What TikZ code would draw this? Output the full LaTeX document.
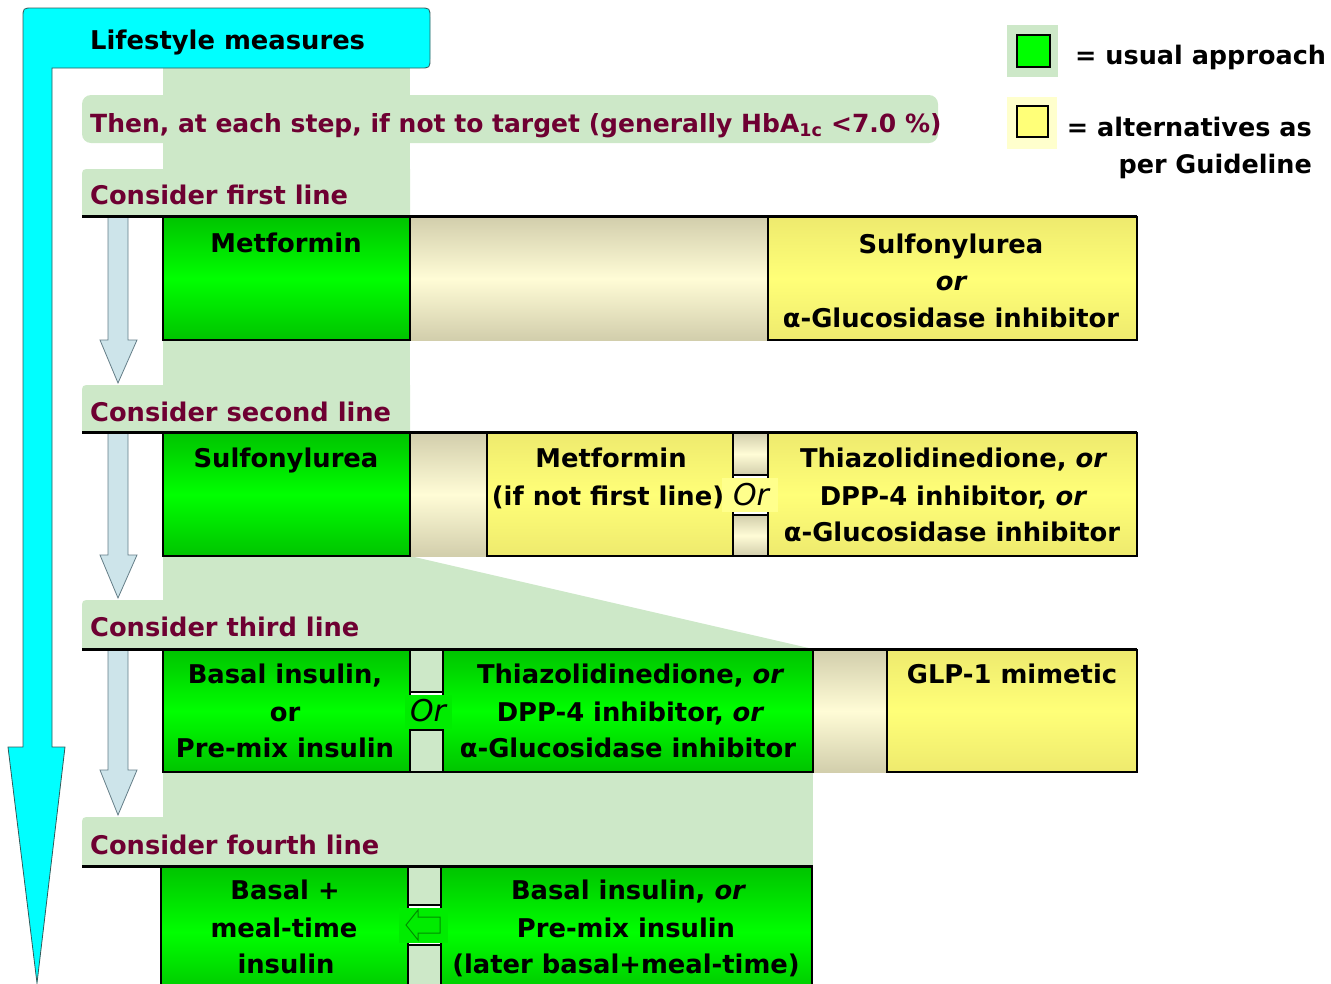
\documentclass[tikz,border=0pt]{standalone}
\usepackage{fontspec}
\setmainfont{DejaVu Sans}
\definecolor{cyanA}{RGB}{0,255,255}
\definecolor{cyanB}{RGB}{50,90,90}
\definecolor{bgG}{RGB}{205,232,200}
\definecolor{gEdge}{RGB}{0,196,0}
\definecolor{gMid}{RGB}{0,255,0}
\definecolor{yEdge}{RGB}{238,234,110}
\definecolor{yMid}{RGB}{255,255,120}
\definecolor{kEdge}{RGB}{210,206,172}
\definecolor{kMid}{RGB}{255,252,214}
\definecolor{arrB}{RGB}{205,228,234}
\definecolor{arrBd}{RGB}{100,125,135}
\definecolor{maroonT}{RGB}{110,0,50}
\definecolor{lyel}{RGB}{255,255,205}
\definecolor{orY}{RGB}{255,255,140}
\definecolor{orG}{RGB}{0,236,0}
\definecolor{dkG}{RGB}{0,140,0}
\tikzset{
 box/.style={draw=black, line width=1.5pt, anchor=north west, inner sep=0pt, outer sep=0pt},
 gbox/.style={box, top color=gEdge, bottom color=gEdge, middle color=gMid},
 ybox/.style={box, top color=yEdge, bottom color=yEdge, middle color=yMid},
 kbox/.style={box, top color=kEdge, bottom color=kEdge, middle color=kMid},
 conn/.style={anchor=north west, inner sep=0pt, outer sep=0pt, top color=kEdge, bottom color=kEdge, middle color=kMid},
 lbox/.style={box, fill=bgG},
 txt/.style={font=\fontsize{25.8}{28}\selectfont\bfseries, anchor=base, inner sep=0pt},
 lab/.style={font=\fontsize{25.7}{28}\selectfont\bfseries, text=maroonT, anchor=base west, inner sep=0pt},
 legt/.style={font=\fontsize{25.5}{28}\selectfont\bfseries, inner sep=0pt},
 ortxt/.style={font=\fontsize{30}{32}\selectfont\itshape, anchor=base, inner sep=0pt},
 barrow/.style={fill=arrB, draw=arrBd, line width=0.8pt},
 rowline/.style={line width=3pt, black},
 tab/.style={fill=bgG, rounded corners=9pt},
}
\newcommand{\toptab}[4]{\fill[bgG] (#1,#4) -- (#1,#2+9) .. controls (#1,#2) .. (#1+9,#2) -- (#3,#2) -- (#3,#4) -- cycle;}
\begin{document}
\begin{tikzpicture}[x=1pt,y=-1pt]
\useasboundingbox (0,0) rectangle (1331,983);
\clip (0,0) rectangle (1331,983);
% light green background
\fill[bgG] (163,68) rectangle (410,560);
\fill[tab] (82,95) rectangle (938,143);
\toptab{82}{169}{410}{216}
\toptab{82}{385}{410}{432}
\fill[bgG] (163,556) -- (410,556) -- (813,649) -- (163,649) -- cycle;
\toptab{82}{600}{420}{649}
\fill[bgG] (163,770) rectangle (813,866);
\toptab{82}{817}{420}{866}
% cyan arrow
\draw[fill=cyanA, draw=cyanB, line width=0.8pt]
  (23,747) -- (23,18) .. controls (23,8) .. (33,8) -- (420,8) .. controls (430,8) .. (430,18)
  -- (430,58) .. controls (430,68) .. (420,68) -- (52,68) -- (52,747) -- (65,747) -- (37,983)
  -- (8,747) -- cycle;
\node[txt, anchor=base west, font=\fontsize{25.8}{28}\selectfont\bfseries] (life) at (90,49) {Lifestyle measures};
% step arrows
\draw[barrow] (108,217) -- (128,217) -- (128,340) -- (137,340) -- (118,383) -- (100,340) -- (108,340) -- cycle;
\draw[barrow] (108,433) -- (128,433) -- (128,555) -- (137,555) -- (118,598) -- (100,555) -- (108,555) -- cycle;
\draw[barrow] (108,650) -- (128,650) -- (128,770) -- (137,770) -- (118,815) -- (100,770) -- (108,770) -- cycle;
% labels
\node[lab, font=\fontsize{25}{28}\selectfont\bfseries] (then) at (90,132) {Then, at each step, if not to target (generally HbA\textsubscript{1c} <7.0 \%)};
\node[lab] (l1) at (90,204) {Consider first line};
\node[lab] (l2) at (90,421) {Consider second line};
\node[lab] (l3) at (90,636) {Consider third line};
\node[lab] (l4) at (90,854) {Consider fourth line};
% row 1
\node[conn, minimum width=358pt, minimum height=123pt] (c1) at (410,217) {};
\node[gbox, minimum width=247pt, minimum height=123pt] (r1a) at (163,217) {};
\node[ybox, minimum width=369pt, minimum height=123pt] (r1b) at (768,217) {};
\draw[rowline] (82,216) -- (1137,216);
\node[txt] (t1a) at (286,252) {Metformin};
\node[txt] (t1b) at (951,253) {Sulfonylurea};
\node[txt] (t1c) at (951,290) {\itshape or};
\node[txt] (t1d) at (951,327) {α-Glucosidase inhibitor};
% row 2
\node[conn, minimum width=77pt, minimum height=123pt] (c2) at (410,433) {};
\node[gbox, minimum width=247pt, minimum height=123pt] (r2a) at (163,433) {};
\node[ybox, minimum width=246pt, minimum height=123pt] (r2b) at (487,433) {};
\node[kbox, minimum width=35pt, minimum height=42pt] (r2s1) at (733,433) {};
\node[kbox, minimum width=35pt, minimum height=41pt] (r2s2) at (733,515) {};
\node[ybox, minimum width=369pt, minimum height=123pt] (r2c) at (768,433) {};
\fill[orY] (722,478) rectangle (778,512);
\draw[rowline] (82,432) -- (1137,432);
\node[txt] (t2a) at (286,467) {Sulfonylurea};
\node[txt] (t2b) at (611,467) {Metformin};
\node[txt] (t2c) at (608,505) {(if not first line)};
\node[ortxt] (or2) at (751,505) {Or};
\node[txt] (t2d) at (953,467) {Thiazolidinedione, \itshape or};
\node[txt] (t2e) at (953,505) {DPP-4 inhibitor, \itshape or};
\node[txt] (t2f) at (952,541) {α-Glucosidase inhibitor};
% row 3
\node[conn, minimum width=74pt, minimum height=122pt] (c3) at (813,650) {};
\node[gbox, minimum width=247pt, minimum height=122pt] (r3a) at (163,650) {};
\node[lbox, minimum width=33pt, minimum height=42pt] (r3s1) at (410,650) {};
\node[lbox, minimum width=33pt, minimum height=42pt] (r3s2) at (410,730) {};
\node[gbox, minimum width=370pt, minimum height=122pt] (r3b) at (443,650) {};
\node[ybox, minimum width=250pt, minimum height=122pt] (r3c) at (887,650) {};
\fill[orG] (405,695) rectangle (452,729);
\draw[rowline] (82,649) -- (1137,649);
\node[txt] (t3a) at (285,683) {Basal insulin,};
\node[txt] (t3b) at (285,721) {or};
\node[txt] (t3c) at (285,757) {Pre-mix insulin};
\node[ortxt] (or3) at (428,721) {Or};
\node[txt] (t3d) at (630,683) {Thiazolidinedione, \itshape or};
\node[txt] (t3e) at (630,721) {DPP-4 inhibitor, \itshape or};
\node[txt] (t3f) at (628,757) {α-Glucosidase inhibitor};
\node[txt] (t3g) at (1012,683) {GLP-1 mimetic};
% row 4
\node[gbox, minimum width=247pt, minimum height=130pt] (r4a) at (161,867) {};
\node[lbox, minimum width=33pt, minimum height=38pt] (r4s1) at (408,867) {};
\node[lbox, minimum width=33pt, minimum height=45pt] (r4s2) at (408,945) {};
\node[gbox, minimum width=371pt, minimum height=130pt] (r4b) at (441,867) {};
\fill[orG] (399,908) rectangle (448,943);
\draw[dkG, line width=1pt] (406,925) -- (418,910) -- (418,917) -- (440,917) -- (440,933) -- (418,933) -- (418,940) -- cycle;
\draw[rowline] (82,866) -- (813,866);
\node[txt] (t4a) at (285,899) {Basal +};
\node[txt] (t4b) at (284,937) {meal-time};
\node[txt] (t4c) at (286,973) {insulin};
\node[txt] (t4d) at (628,899) {Basal insulin, \itshape or};
\node[txt] (t4e) at (626,937) {Pre-mix insulin};
\node[txt] (t4f) at (626,973) {(later basal+meal-time)};
% legend
\fill[bgG] (1007,25) rectangle (1058,77);
\node[box, fill=gMid, minimum width=33pt, minimum height=32pt] (lg1) at (1017,35) {};
\fill[lyel] (1007,97) rectangle (1057,149);
\node[box, fill=yMid, minimum width=31pt, minimum height=31pt] (lg2) at (1017,106) {};
\node[legt, anchor=base west] (lt1) at (1075,64) {= usual approach};
\node[legt, anchor=base east] (lt2) at (1312,136) {= alternatives as};
\node[legt, anchor=base east] (lt3) at (1312,173) {per Guideline};
\end{tikzpicture}
\end{document}
